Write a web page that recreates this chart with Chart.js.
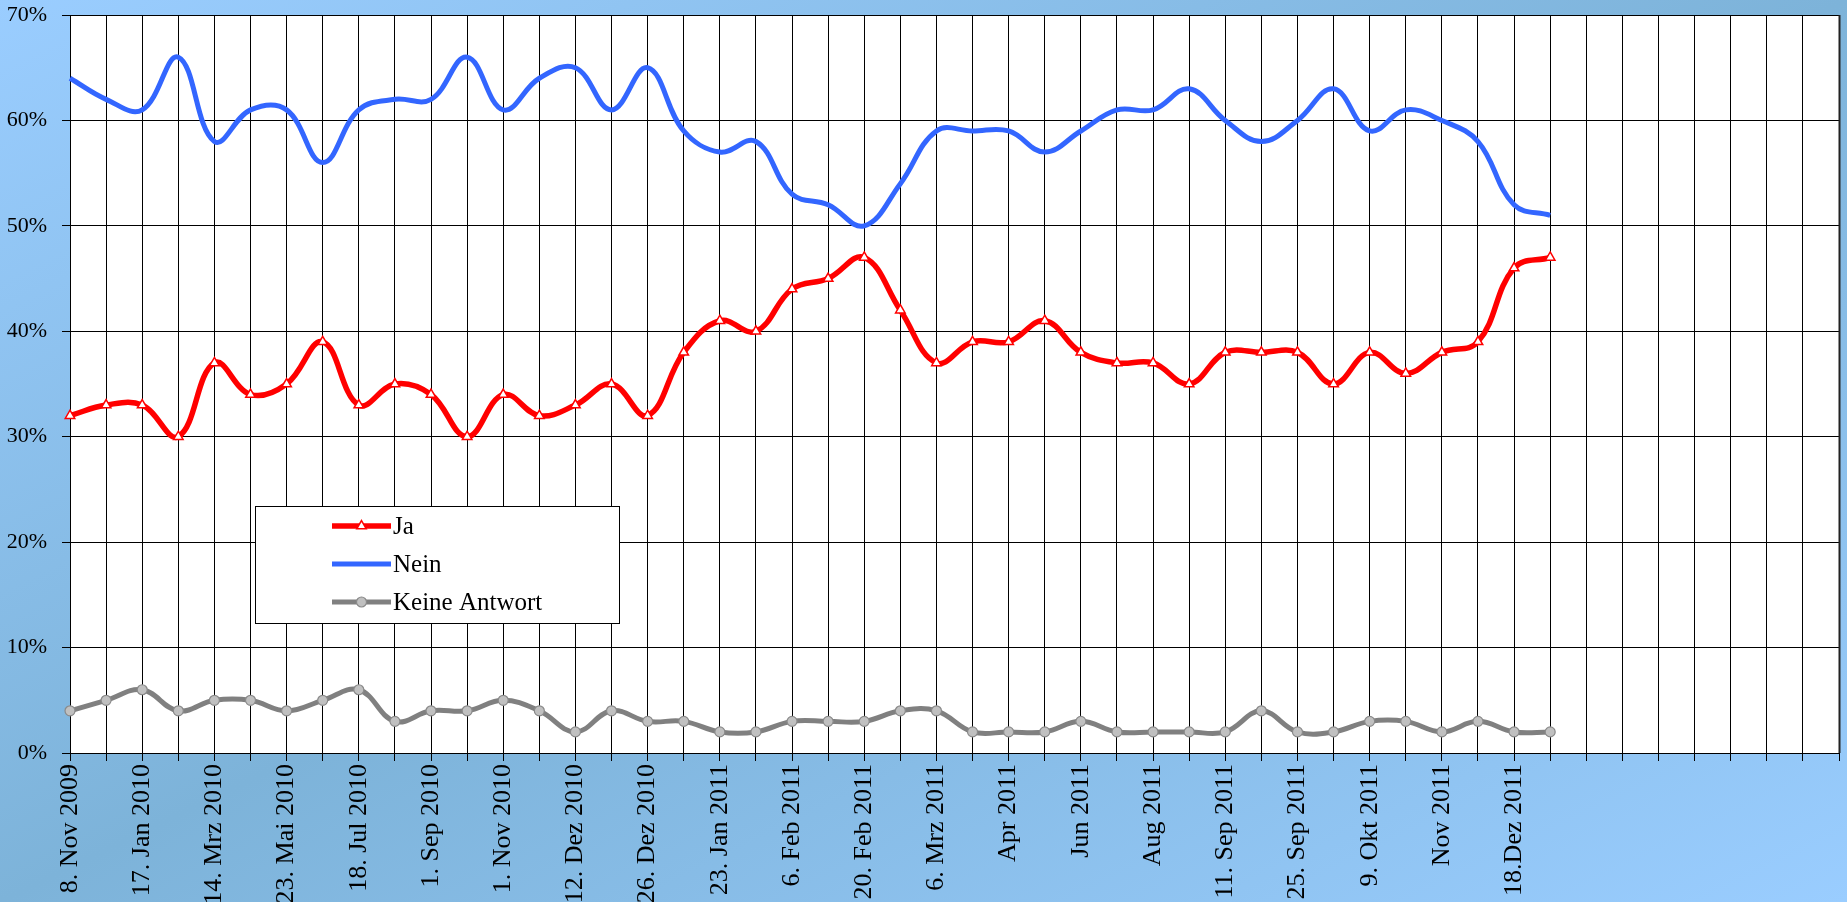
<!DOCTYPE html>
<html>
<head>
<meta charset="utf-8">
<script src="https://cdn.jsdelivr.net/npm/chart.js@4.4.0/dist/chart.umd.min.js"></script>
<style>
html,body{margin:0;padding:0;overflow:hidden;background:#99ccff;}
canvas{display:block;}
</style>
</head>
<body>
<canvas id="c" width="1847" height="902"></canvas>
<script>
// ---- data ----
const tickLabels = ['8. Nov 2009','17. Jan 2010','14. Mrz 2010','23. Mai 2010','18. Jul 2010','1. Sep 2010','1. Nov 2010','12. Dez 2010','26. Dez 2010','23. Jan 2011','6. Feb 2011','20. Feb 2011','6. Mrz 2011','Apr 2011','Jun 2011','Aug 2011','11. Sep 2011','25. Sep 2011','9. Okt 2011','Nov 2011','18.Dez 2011'];
const categoryCount = 50;
const ja    = [32,33,33,30,37,34,35,39,33,35,34,30,34,32,33,35,32,38,41,40,44,45,47,42,37,39,39,41,38,37,37,35,38,38,38,35,38,36,38,39,46,47];
const nein  = [64,62,61,66,58,61,61,56,61,62,62,66,61,64,65,61,65,59,57,58,53,52,50,54,59,59,59,57,59,61,61,63,60,58,60,63,59,61,60,58,52,51];
const keine = [4,5,6,4,5,5,4,5,6,3,4,4,5,4,2,4,3,3,2,2,3,3,3,4,4,2,2,2,3,2,2,2,2,4,2,2,3,3,2,3,2,2];
const seriesNames = ['Ja','Nein','Keine Antwort'];
const yMin = 0, yMax = 70, yStep = 10;

const categories = Array.from({length: categoryCount}, (_, i) =>
  (i % 2 === 0 && i / 2 < tickLabels.length) ? tickLabels[i / 2] : '');

const FONT = '"Liberation Serif","Times New Roman",serif';
Chart.defaults.font.family = FONT;
Chart.defaults.color = '#000';

// background gradient + white plot area
const bgPlugin = {
  id: 'bg',
  beforeDraw(chart) {
    const {ctx, width: W, height: H, chartArea: a} = chart;
    ctx.save();
    const len = Math.hypot(W, H);
    const dx = H / len, dy = W / len, L = W * H / len;
    const cx = W / 2, cy = H / 2;
    const g = ctx.createLinearGradient(cx - dx * L, cy - dy * L, cx + dx * L, cy + dy * L);
    g.addColorStop(0, '#9acdff');
    g.addColorStop(0.5, '#7db3d9');
    g.addColorStop(1, '#9acdff');
    ctx.fillStyle = g;
    ctx.fillRect(0, 0, W, H);
    ctx.fillStyle = '#ffffff';
    ctx.fillRect(a.left, a.top, a.right - a.left, a.bottom - a.top);
    ctx.restore();
  },
  afterDatasetsDraw(chart) {
    // dark right edge of the plot area
    const {ctx, chartArea: a} = chart;
    ctx.save();
    ctx.strokeStyle = '#222';
    ctx.lineWidth = 2;
    ctx.beginPath();
    ctx.moveTo(a.right + 0.5, a.top);
    ctx.lineTo(a.right + 0.5, a.bottom);
    ctx.stroke();
    ctx.restore();
  }
};

function drawMarker(ctx, style, x, y, r) {
  ctx.beginPath();
  if (style === 'triangle') {
    let rad = 0;
    ctx.moveTo(x + Math.sin(rad) * r, y - Math.cos(rad) * r);
    rad += 2 * Math.PI / 3;
    ctx.lineTo(x + Math.sin(rad) * r, y - Math.cos(rad) * r);
    rad += 2 * Math.PI / 3;
    ctx.lineTo(x + Math.sin(rad) * r, y - Math.cos(rad) * r);
    ctx.closePath();
  } else {
    ctx.arc(x, y, r, 0, Math.PI * 2);
  }
  ctx.fill();
  ctx.stroke();
}

const legendPlugin = {
  id: 'boxLegend',
  afterDraw(chart, args, o) {
    const ctx = chart.ctx;
    ctx.save();
    ctx.fillStyle = '#fff';
    ctx.fillRect(o.x, o.y, o.w, o.h);
    ctx.strokeStyle = '#000';
    ctx.lineWidth = 1;
    ctx.strokeRect(o.x + 0.5, o.y + 0.5, o.w, o.h);
    chart.data.datasets.forEach((ds, i) => {
      const y = o.y + o.firstRow + i * o.rowGap;
      const x0 = o.x + o.lineX, x1 = x0 + o.lineLen;
      ctx.strokeStyle = ds.borderColor;
      ctx.lineWidth = ds.borderWidth;
      ctx.lineCap = 'butt';
      ctx.beginPath(); ctx.moveTo(x0, y); ctx.lineTo(x1, y); ctx.stroke();
      if (ds.pointRadius > 0) {
        ctx.fillStyle = ds.pointBackgroundColor;
        ctx.strokeStyle = ds.pointBorderColor;
        ctx.lineWidth = ds.pointBorderWidth;
        drawMarker(ctx, ds.pointStyle, (x0 + x1) / 2, y, ds.pointRadius);
      }
      ctx.fillStyle = '#000';
      ctx.font = o.fontSize + 'px ' + FONT;
      ctx.textBaseline = 'middle';
      ctx.textAlign = 'left';
      ctx.fillText(ds.label, o.x + o.textX, y + 1);
    });
    ctx.restore();
  }
};

new Chart(document.getElementById('c'), {
  type: 'line',
  data: {
    labels: categories,
    datasets: [
      {
        label: seriesNames[0], data: ja,
        borderColor: '#ff0000', borderWidth: 5.5, tension: 0.4,
        pointStyle: 'triangle', pointRadius: 5.5,
        pointBackgroundColor: '#ffffff', pointBorderColor: '#ff0000', pointBorderWidth: 1.5
      },
      {
        label: seriesNames[1], data: nein,
        borderColor: '#3366ff', borderWidth: 5, tension: 0.4,
        pointRadius: 0, pointBorderWidth: 0
      },
      {
        label: seriesNames[2], data: keine,
        borderColor: '#808080', borderWidth: 5, tension: 0.4,
        pointStyle: 'circle', pointRadius: 5,
        pointBackgroundColor: '#c0c0c0', pointBorderColor: '#8a8a8a', pointBorderWidth: 1.2
      }
    ]
  },
  options: {
    responsive: false,
    animation: false,
    events: [],
    layout: { padding: { top: 15, right: 8, left: 0, bottom: 0 } },
    plugins: {
      legend: { display: false },
      tooltip: { enabled: false },
      boxLegend: { x: 255, y: 506, w: 364, h: 117, firstRow: 20, rowGap: 38,
                   lineX: 77, lineLen: 59, textX: 138, fontSize: 25 }
    },
    scales: {
      x: {
        type: 'category',
        offset: false,
        grid: { color: '#000', lineWidth: 1, tickLength: 8, tickColor: '#000' },
        border: { color: '#000', width: 1 },
        ticks: { autoSkip: false, maxRotation: 90, minRotation: 90, color: '#000',
                 font: { size: 26 }, padding: 3 },
        afterFit(s) {
          s.height = 149;
          s.paddingLeft = 0; s.paddingRight = 0; s.paddingTop = 0; s.paddingBottom = 0;
        }
      },
      y: {
        min: yMin, max: yMax,
        grid: { color: '#000', lineWidth: 1, tickLength: 8, tickColor: '#000' },
        border: { color: '#000', width: 1 },
        ticks: { stepSize: yStep, callback: v => v + '%', color: '#000',
                 font: { size: 22 }, padding: 15 },
        afterFit(s) {
          s.width = 70;
          s.paddingLeft = 0; s.paddingRight = 0; s.paddingTop = 0; s.paddingBottom = 0;
        }
      }
    }
  },
  plugins: [bgPlugin, legendPlugin]
});
</script>
</body>
</html>
